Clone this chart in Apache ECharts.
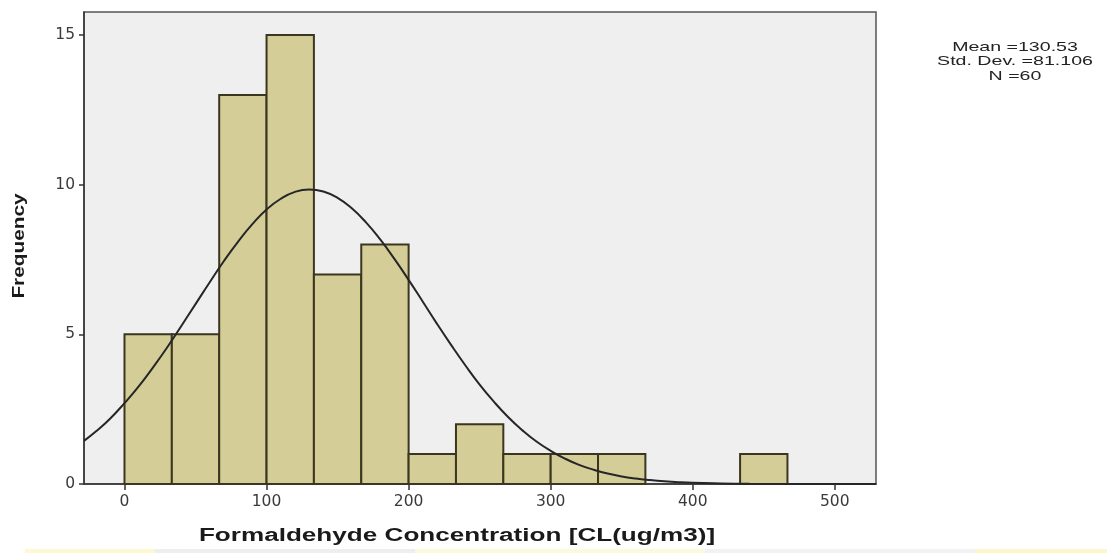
<!DOCTYPE html>
<html>
<head>
<meta charset="utf-8">
<script src="https://cdn.jsdelivr.net/npm/echarts@6/dist/echarts.min.js"></script>
<style>
  html, body { margin: 0; padding: 0; background: #ffffff; }
  #chart { width: 1107px; height: 553px; }
</style>
</head>
<body>
<div id="chart"></div>
<script>
// Histogram bins (ug/m3) and counts
const binStarts = [0, 33.33, 66.67, 100, 133.33, 166.67, 200, 233.33, 266.67, 300, 333.33, 366.67, 400, 433.33];
const binEnds   = [33.33, 66.67, 100, 133.33, 166.67, 200, 233.33, 266.67, 300, 333.33, 366.67, 400, 433.33, 466.67];
const counts    = [5, 5, 13, 15, 7, 8, 1, 2, 1, 1, 1, 0, 0, 1];

// Fitted normal curve, sampled points
const curveX = [-28.5, -20, -10, 0, 10, 20, 30, 40, 50, 60, 70, 80, 90, 100, 110, 120, 130, 140, 150, 160, 170, 180, 190, 200, 210, 220, 230, 240, 250, 260, 270, 280, 290, 300, 310, 320, 330, 340, 350, 360, 370, 380, 390, 400, 420, 440, 460, 480, 500, 529];
const curveY = [1.44, 1.76, 2.19, 2.70, 3.26, 3.89, 4.56, 5.28, 6.01, 6.74, 7.45, 8.10, 8.68, 9.17, 9.53, 9.76, 9.84, 9.77, 9.56, 9.21, 8.74, 8.17, 7.52, 6.82, 6.09, 5.35, 4.64, 3.96, 3.32, 2.75, 2.24, 1.80, 1.42, 1.11, 0.85, 0.64, 0.48, 0.35, 0.25, 0.18, 0.13, 0.09, 0.06, 0.04, 0.02, 0.007, 0.003, 0.001, 0.0005, 0.0001];

// Axis tick labels
const xTicks = [0, 100, 200, 300, 400, 500];
const yTicks = [0, 5, 10, 15];

// Titles and summary statistics
const xTitle = 'Formaldehyde Concentration [CL(ug/m3)]';
const yTitle = 'Frequency';
const statLines = ['Mean =130.53', 'Std. Dev. =81.106', 'N =60'];

const chart = echarts.init(document.getElementById('chart'), null, { renderer: 'canvas' });

const histData = counts.map((c, i) => [binStarts[i], binEnds[i], c]);
const curveData = curveX.map((x, i) => [x, curveY[i]]);

const labelFont = { fontFamily: 'DejaVu Sans', fontSize: 15.5, color: '#3a3a3a' };

// Text elements drawn wide, as in the exported figure
const textGraphics = [
  {
    type: 'text', x: 457, y: 536, scaleX: 1.45,
    style: { text: xTitle, fontFamily: 'Liberation Sans', fontWeight: 'bold', fontSize: 18,
             fill: '#1a1a1a', align: 'center', verticalAlign: 'middle' }
  },
  {
    type: 'text', x: 20, y: 246, rotation: Math.PI / 2, scaleX: 1.3,
    style: { text: yTitle, fontFamily: 'Liberation Sans', fontWeight: 'bold', fontSize: 16,
             fill: '#1a1a1a', align: 'center', verticalAlign: 'middle' }
  }
].concat(statLines.map((t, i) => ({
  type: 'text', x: 1015, y: 47 + i * 14.5, scaleX: 1.45,
  style: { text: t, fontFamily: 'Liberation Sans', fontSize: 13.5, fill: '#222222',
           align: 'center', verticalAlign: 'middle' }
})));

// Faint coloured strip along the bottom edge
const stripGraphics = [
  { x: 25, w: 130, c: 'rgba(250,240,150,0.45)' },
  { x: 155, w: 260, c: 'rgba(200,200,200,0.3)' },
  { x: 415, w: 290, c: 'rgba(250,240,160,0.38)' },
  { x: 705, w: 270, c: 'rgba(205,205,205,0.25)' },
  { x: 975, w: 132, c: 'rgba(250,235,140,0.45)' }
].map(s => ({
  type: 'rect', shape: { x: s.x, y: 549, width: s.w, height: 4 },
  style: { fill: s.c }, silent: true
}));

const option = {
  backgroundColor: '#ffffff',
  animation: false,
  grid: {
    left: 84, right: 231, top: 12, bottom: 69,
    show: true,
    backgroundColor: '#efefef',
    borderColor: '#555555',
    borderWidth: 1.5
  },
  xAxis: {
    type: 'value',
    min: -28.5, max: 529,
    splitLine: { show: false },
    axisLine: { show: true, onZero: false, lineStyle: { color: '#333333', width: 1.5 } },
    axisTick: { show: true, length: 6, customValues: xTicks, lineStyle: { color: '#333333', width: 1.5 } },
    axisLabel: Object.assign({ customValues: xTicks, margin: 10 }, labelFont)
  },
  yAxis: {
    type: 'value',
    min: 0, max: 15.77,
    splitLine: { show: false },
    axisLine: { show: true, onZero: false, lineStyle: { color: '#333333', width: 1.5 } },
    axisTick: { show: true, length: 5, customValues: yTicks, lineStyle: { color: '#333333', width: 1.5 } },
    axisLabel: Object.assign({ customValues: yTicks, margin: 9 }, labelFont)
  },
  graphic: textGraphics.concat(stripGraphics),
  series: [
    {
      type: 'custom',
      data: histData,
      encode: { x: [0, 1], y: 2 },
      renderItem: function (params, api) {
        const h = api.value(2);
        if (!h) return null;
        const p0 = api.coord([api.value(0), 0]);
        const p1 = api.coord([api.value(1), h]);
        return {
          type: 'rect',
          shape: { x: p0[0], y: p1[1], width: p1[0] - p0[0], height: p0[1] - p1[1] },
          style: { fill: '#d4cd98', stroke: '#3b3620', lineWidth: 2 }
        };
      },
      z: 2
    },
    {
      type: 'line',
      data: curveData,
      smooth: true,
      showSymbol: false,
      lineStyle: { color: '#262626', width: 2 },
      z: 3
    }
  ]
};

chart.setOption(option);
</script>
</body>
</html>
